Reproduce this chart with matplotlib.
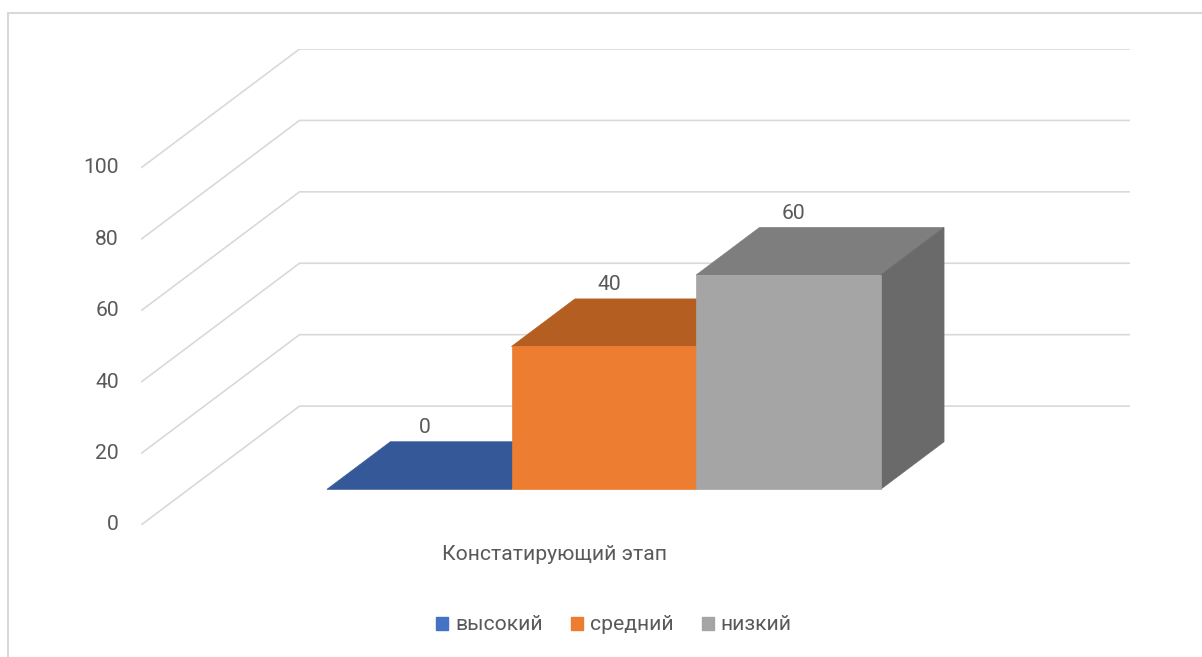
import matplotlib.pyplot as plt
from matplotlib.patches import Polygon, Rectangle, Patch

plt.rcParams['font.family'] = ['Roboto', 'DejaVu Sans']

category = "Констатирующий этап"
series = ["высокий", "средний", "низкий"]
values = [0, 40, 60]
y_ticks = [0, 20, 40, 60, 80, 100]

front_colors = ["#4472C4", "#ED7D31", "#A5A5A5"]
top_colors = ["#345898", "#B45E22", "#7E7E7E"]
side_colors = ["#2C4A80", "#9E521D", "#6A6A6A"]

text_color = "#595959"
grid_color = "#D9D9D9"
fs = 15.2

# 3D box geometry: bars are 1 unit wide, gap width 150% on the floor
gap = 0.75
n = len(values)
DX, DY = 0.859, 33.3          # full floor depth, in data units
d0, d1 = 0.3, 0.7             # bar depth span (gap depth 150%)
ymax = 100

fig = plt.figure(figsize=(12.02, 6.57), dpi=100)
ax = fig.add_axes([141 / 1202, 132 / 657, 989 / 1202, 476 / 657])
ax.set_xlim(-gap, n + gap + DX)
ax.set_ylim(0, ymax + DY)
ax.axis('off')

# chart border
fig.patches.append(Rectangle((8 / 1202, -0.1), 1.2, 1 - 13 / 657 + 0.1,
                             transform=fig.transFigure, fill=False,
                             edgecolor=grid_color, linewidth=1.5))

# gridlines on the side wall and back wall
x0, x1 = -gap, n + gap
for v in y_ticks:
    ax.plot([x0, x0 + DX, x1 + DX], [v, v + DY, v + DY],
            color=grid_color, lw=1.2, solid_capstyle='butt', zorder=1)
    ax.annotate(str(v), (x0, v), xytext=(-22, 0), textcoords='offset pixels',
                ha='right', va='center', fontsize=fs, color=text_color)

# bars
for i, v in enumerate(values):
    fx, fy = i + d0 * DX, d0 * DY
    bx, by = i + d1 * DX, d1 * DY
    top = [(fx, fy + v), (fx + 1, fy + v), (bx + 1, by + v), (bx, by + v)]
    side = [(fx + 1, fy), (bx + 1, by), (bx + 1, by + v), (fx + 1, fy + v)]
    z = 2 + i * 3
    ax.add_patch(Polygon(top, closed=True, facecolor=top_colors[i],
                         edgecolor=top_colors[i], lw=0.5, zorder=z))
    ax.add_patch(Polygon(side, closed=True, facecolor=side_colors[i],
                         edgecolor=side_colors[i], lw=0.5, zorder=z + 1))
    if v > 0:
        ax.add_patch(Rectangle((fx, fy), 1, v, facecolor=front_colors[i],
                               edgecolor=front_colors[i], lw=0.5, zorder=z + 2))
    ax.text(fx + 0.5 + 0.03, by + v + 4, str(v), ha='center', va='center',
            fontsize=fs, color=text_color, zorder=20)

fig.text(555 / 1202, 1 - 555 / 657, category, ha='center', va='center',
         fontsize=fs, color=text_color)

handles = [Patch(facecolor=c, edgecolor=c) for c in front_colors]
fig.legend(handles, series, loc='center', bbox_to_anchor=(614 / 1202, 1 - 625 / 657),
           ncol=3, frameon=False, fontsize=fs, labelcolor=text_color,
           handlelength=0.57, handleheight=0.57, handletextpad=0.33,
           columnspacing=1.33)

fig.savefig("out.png", dpi=100, facecolor='white')
